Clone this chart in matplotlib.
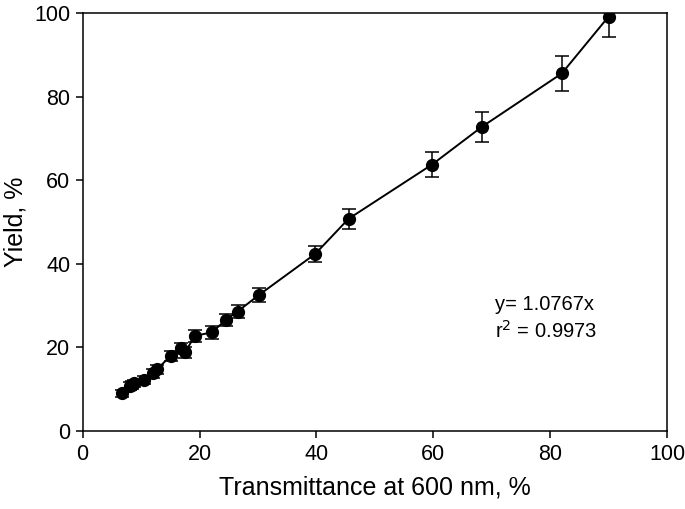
import matplotlib
matplotlib.use("Agg")
import matplotlib.pyplot as plt

plt.rcParams['font.family'] = ['Liberation Sans', 'DejaVu Sans']

transmittance = [6.7, 8.1, 8.4, 8.7, 10.5, 12.1, 12.7, 15.1, 16.9, 17.5, 19.2, 22.1, 24.5, 26.5, 30.2,
                 39.8, 45.5, 59.8, 68.3, 82.0, 90.0]
yield_pct = [9.0, 10.8, 11.0, 11.4, 12.2, 13.8, 14.8, 18.0, 19.8, 18.8, 22.8, 23.6, 26.6, 28.6, 32.6,
             42.4, 50.8, 63.8, 72.8, 85.6, 99.2]
yield_err = [0.8, 0.9, 0.9, 0.9, 1.0, 1.0, 1.1, 1.2, 1.3, 1.3, 1.4, 1.5, 1.5, 1.6, 1.7,
             2.0, 2.4, 3.0, 3.5, 4.2, 4.8]

fig = plt.figure(figsize=(6.85, 5.09), dpi=100)
ax = fig.add_axes([0.1207, 0.1532, 0.853, 0.8207])

ax.errorbar(transmittance, yield_pct, yerr=yield_err, fmt='o-', color='black',
            markersize=8.5, linewidth=1.4, elinewidth=1.1, capsize=5, capthick=1.1)

ax.set_xlim(0, 100)
ax.set_ylim(0, 100)
ax.set_xticks([0, 20, 40, 60, 80, 100])
ax.set_yticks([0, 20, 40, 60, 80, 100])
ax.tick_params(direction='out', length=5, width=1.1, labelsize=15.5, pad=4)
for s in ax.spines.values():
    s.set_linewidth(1.1)

ax.set_xlabel('Transmittance at 600 nm, %', fontsize=18, labelpad=8)
ax.set_ylabel('Yield, %', fontsize=18, labelpad=5)

ax.text(70.6, 30.2, 'y= 1.0767x', fontsize=14.5, va='center', ha='left')
ax.text(70.6, 24.0, r'r$^{2}$ = 0.9973', fontsize=14.5, va='center', ha='left')

fig.savefig('out.png', dpi=100)
